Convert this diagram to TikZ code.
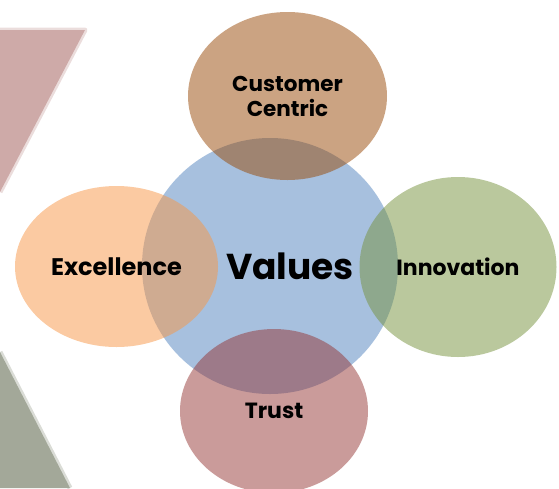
\documentclass[tikz,border=0pt]{standalone}
\usepackage{fontspec}
\setmainfont{Poppins}
\usetikzlibrary{shapes.geometric}
\definecolor{valblue}{HTML}{4F81BD}
\definecolor{custbrown}{HTML}{974806}
\definecolor{exclorange}{HTML}{F79646}
\definecolor{innogreen}{HTML}{76923C}
\definecolor{trustred}{HTML}{953735}
\definecolor{stripepink}{RGB}{206,170,168}
\definecolor{stripegreen}{RGB}{163,168,153}
\begin{document}
\begin{tikzpicture}[x=1pt, y=-1pt,
  petal/.style={ellipse, fill opacity=0.5, text opacity=1, inner sep=0pt, align=center,
    font=\fontsize{22}{25}\selectfont\bfseries},
  soft/.style={line width=5pt, opacity=0.4, line join=round}]
\useasboundingbox (0,0) rectangle (559,488);

% faint stripes behind, soft edges
\fill [stripepink] (0,30) -- (85,30) -- (0,192) -- cycle;
\draw [stripepink, soft] (0,30) -- (85,30) -- (0,192);
\fill [stripegreen] (0,352) -- (70,488) -- (0,488) -- cycle;
\draw [stripegreen, soft] (0,352) -- (70,488);

\node (values) [circle, fill=valblue, fill opacity=0.5, minimum size=256pt] at (270,266) {};
\node (valtext) [font=\fontsize{36}{40}\selectfont\bfseries] at ([xshift=20pt]values.center) {Values};

\node (customer) [petal, fill=custbrown, minimum width=199pt, minimum height=168pt, font=\fontsize{21.5}{25}\selectfont\bfseries] at (287.5,96) {Customer\\Centric};
\node (excellence) [petal, fill=exclorange, minimum width=203pt, minimum height=161pt, font=\fontsize{24}{25}\selectfont\bfseries] at (116.5,266.5) {Excellence};
\node (innovation) [petal, fill=innogreen, minimum width=197pt, minimum height=180pt] at (458,267) {Innovation};
\node (trust) [petal, fill=trustred, minimum width=188pt, minimum height=164pt] at (274,411) {Trust};

\end{tikzpicture}
\end{document}
